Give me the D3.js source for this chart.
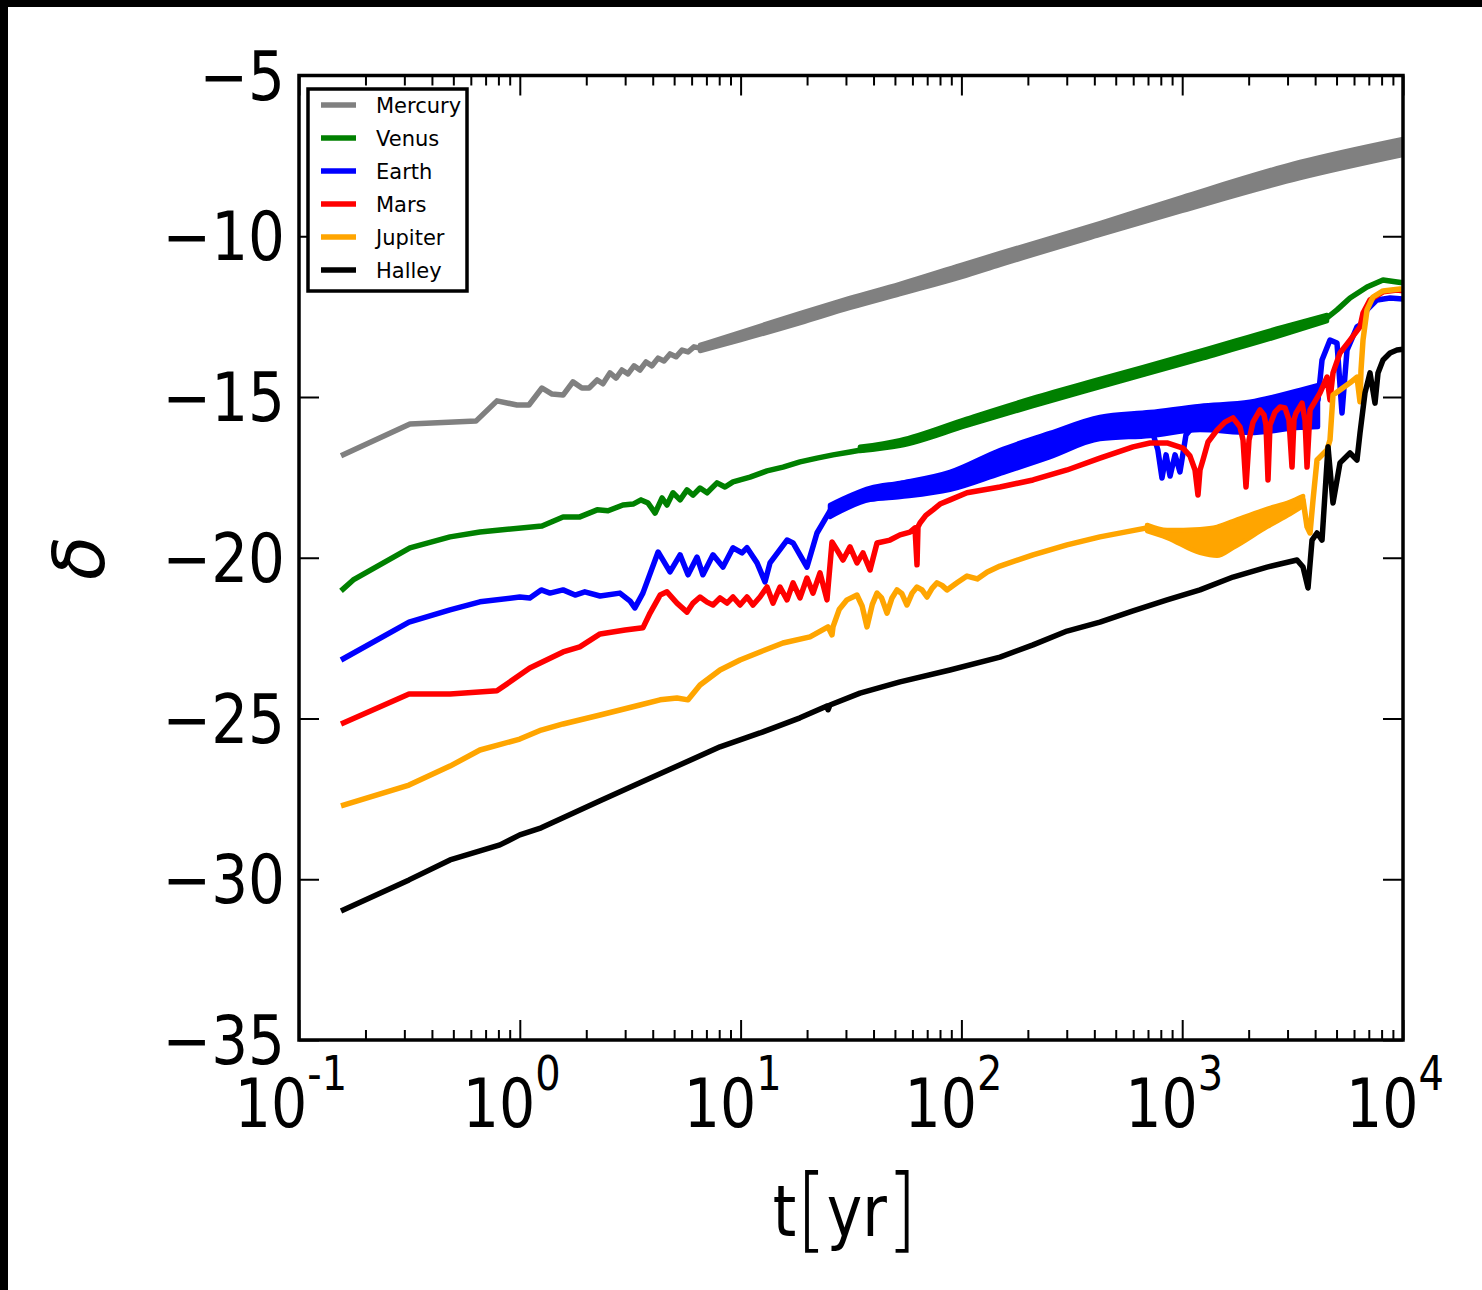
<!DOCTYPE html>
<html>
<head>
<meta charset="utf-8">
<script src="https://cdn.jsdelivr.net/npm/d3@7"></script>
<style>
  body { margin: 0; background: #fff; }
  text { font-family: "DejaVu Sans", sans-serif; fill: #000; }
</style>
</head>
<body>
<svg id="chart" width="1482" height="1290"></svg>
<script>
// ---- data: relative error delta (log10) versus time t [yr] ----
const seriesNames  = ["Mercury", "Venus", "Earth", "Mars", "Jupiter", "Halley"];
const seriesColors = ["#808080", "#008000", "#0000ff", "#ff0000", "#ffa500", "#000000"];

const mercury = [[0.155,-16.83],[0.318,-15.84],[0.633,-15.75],[0.788,-15.12],[0.971,-15.25],[1.10,-15.25],
  [1.26,-14.72],[1.40,-14.91],[1.57,-14.94],[1.74,-14.53],[1.91,-14.72],[2.06,-14.72],[2.24,-14.47],
  [2.38,-14.59],[2.56,-14.25],[2.73,-14.41],[2.90,-14.16],[3.09,-14.28],[3.29,-14.03],[3.50,-14.16],
  [3.73,-13.91],[3.97,-14.03],[4.23,-13.79],[4.50,-13.88],[4.79,-13.66],[5.10,-13.75],[5.43,-13.54],
  [5.78,-13.60],[6.15,-13.44],[6.55,-13.48]];
// fast oscillation envelope: [t, upper, lower]
const mercuryBand = [[6.55,-13.38,-13.57],[10,-12.98,-13.23],[18.6,-12.39,-12.70],[31.3,-11.92,-12.23],
  [52.7,-11.48,-11.80],[100,-10.89,-11.27],[150,-10.52,-10.89],[424,-9.59,-9.96],[1000,-8.78,-9.21],
  [3417,-7.69,-8.19],[10000,-6.97,-7.47]];

const venus = [[0.155,-21.03],[0.176,-20.69],[0.318,-19.69],[0.483,-19.35],[0.660,-19.20],[0.813,-19.14],
  [1.26,-19.01],[1.57,-18.73],[1.87,-18.73],[2.24,-18.51],[2.51,-18.54],[2.93,-18.36],[3.26,-18.33],
  [3.54,-18.20],[3.81,-18.30],[4.10,-18.61],[4.41,-18.14],[4.64,-18.36],[4.94,-17.98],[5.32,-18.20],
  [5.72,-17.89],[6.09,-18.05],[6.55,-17.83],[7.05,-17.98],[7.82,-17.67],[8.50,-17.80],[9.24,-17.64],
  [11.03,-17.49],[13.17,-17.30],[15.56,-17.18],[18.58,-17.02],[22.18,-16.90],[26.21,-16.80],[31.3,-16.71],
  [52.7,-16.43],[106,-15.78],[211,-15.15],[424,-14.56],[1204,-13.69],[2861,-12.95],[4527,-12.54],
  [5024,-12.29],[5754,-11.92],[6871,-11.58],[8119,-11.36],[9393,-11.42],[10000,-11.45]];
const venusBand = [[34.7,-16.55,-16.68],[52.7,-16.34,-16.52],[106,-15.67,-15.89],[211,-15.03,-15.28],
  [424,-14.44,-14.69],[1204,-13.57,-13.82],[2861,-12.82,-13.07],[4527,-12.45,-12.64]];

const earth = [[0.155,-23.18],[0.315,-22.00],[0.483,-21.62],[0.660,-21.37],[1.00,-21.22],[1.11,-21.25],
  [1.25,-21.00],[1.37,-21.10],[1.57,-21.00],[1.78,-21.16],[1.97,-21.06],[2.31,-21.19],[2.84,-21.10],
  [3.16,-21.35],[3.32,-21.56],[3.61,-21.10],[4.23,-19.82],[4.79,-20.44],[5.32,-19.91],[5.78,-20.53],
  [6.35,-19.98],[6.75,-20.53],[7.50,-19.91],[8.32,-20.29],[9.24,-19.69],[10.15,-19.85],[10.69,-19.69],
  [11.87,-20.16],[12.90,-20.75],[13.59,-20.16],[16.23,-19.45],[17.28,-19.54],[19.98,-20.29],[22.18,-19.23],
  [25.4,-18.54],[38.6,-18.02],[52.7,-17.89],[88.8,-17.61],[149.5,-17.02],[252,-16.49],[424,-15.96],
  [715,-15.84],[776,-16.65],[810,-17.52],[845,-16.80],[881,-17.46],[928,-16.80],[977,-17.33],[1040,-16.18],
  [1204,-15.65],[2028,-15.62],[3417,-15.37],[4121,-15.09],[4298,-13.85],[4670,-13.23],[5024,-13.32],
  [5293,-15.50],[5578,-13.54],[6190,-12.82],[6590,-12.70],[6871,-12.29],[7625,-11.98],[8734,-11.92],
  [10000,-11.95]];
const earthBand = [[25.4,-18.36,-18.73],[38.6,-17.83,-18.20],[52.7,-17.67,-18.11],[88.8,-17.33,-17.89],
  [149.5,-16.65,-17.39],[252,-16.12,-16.87],[424,-15.62,-16.31],[715,-15.47,-16.21],[1204,-15.28,-16.03],
  [2028,-15.15,-16.12],[3417,-14.78,-15.96],[4121,-14.63,-15.93]];

const mars = [[0.155,-25.17],[0.315,-24.24],[0.483,-24.24],[0.788,-24.14],[1.11,-23.43],[1.57,-22.93],
  [1.87,-22.77],[2.31,-22.37],[3.00,-22.25],[3.61,-22.18],[3.89,-21.72],[4.32,-21.16],[4.64,-21.06],
  [5.15,-21.41],[5.72,-21.69],[6.09,-21.41],[6.55,-21.22],[7.05,-21.38],[7.50,-21.47],[8.07,-21.25],
  [8.68,-21.41],[9.24,-21.22],[9.94,-21.47],[10.69,-21.22],[11.38,-21.47],[12.24,-21.22],[13.17,-20.91],
  [14.02,-21.41],[15.08,-20.91],[16.23,-21.31],[17.28,-20.78],[18.58,-21.25],[19.98,-20.63],[21.28,-21.10],
  [22.89,-20.47],[24.62,-21.31],[25.94,-19.51],[27.33,-19.76],[29.10,-20.07],[31.30,-19.66],[33.67,-20.16],
  [35.84,-19.85],[38.56,-20.38],[41.48,-19.54],[47.49,-19.45],[52.72,-19.29],[58.50,-19.20],[61.63,-19.07],
  [62.94,-20.22],[63.59,-19.04],[64.94,-18.92],[69.0,-18.68],[74.35,-18.51],[80.0,-18.33],[88.79,-18.20],
  [106,-17.98],[149.5,-17.80],[211,-17.58],[301,-17.27],[424,-16.90],[599,-16.55],[715,-16.43],
  [854,-16.43],[1008,-16.59],[1084,-16.83],[1143,-17.27],[1179,-18.05],[1204,-17.27],[1242,-16.96],
  [1309,-16.40],[1438,-16.03],[1562,-15.78],[1699,-15.65],[1827,-15.93],[1886,-16.34],[1945,-17.80],
  [2007,-16.34],[2093,-15.78],[2251,-15.40],[2347,-15.56],[2396,-15.87],[2447,-17.58],[2498,-15.87],
  [2632,-15.47],[2774,-15.31],[2922,-15.34],[3045,-15.71],[3143,-17.18],[3208,-15.71],[3277,-15.50],
  [3489,-15.19],[3600,-15.72],[3676,-17.18],[3793,-15.40],[4209,-14.87],[4527,-14.38],[4670,-15.09],
  [4819,-14.25],[5184,-13.63],[5754,-13.23],[6387,-12.82],[6590,-12.39],[7088,-11.98],[8119,-11.73],
  [9393,-11.67],[10000,-11.70]];

const jupiter = [[0.155,-27.72],[0.315,-27.07],[0.483,-26.48],[0.660,-25.98],[1.00,-25.64],[1.25,-25.36],
  [1.57,-25.17],[2.31,-24.89],[3.50,-24.58],[4.32,-24.42],[5.15,-24.36],[5.78,-24.42],[6.55,-23.96],
  [8.07,-23.49],[9.94,-23.18],[12.24,-22.93],[15.56,-22.65],[20.62,-22.46],[24.88,-22.15],[25.94,-22.40],
  [26.21,-22.15],[28.0,-21.60],[30.34,-21.31],[33.67,-21.16],[35.5,-21.50],[37.36,-22.15],[39.5,-21.45],
  [41.48,-21.10],[43.5,-21.25],[46.03,-21.72],[48.5,-21.25],[51.09,-21.00],[53.8,-21.12],[56.70,-21.47],
  [59.8,-21.10],[62.94,-20.91],[66.3,-21.00],[69.87,-21.22],[73.6,-20.95],[77.51,-20.78],[81.7,-20.86],
  [86.05,-21.00],[95.5,-20.78],[106,-20.57],[118,-20.66],[131,-20.44],[149.5,-20.26],[211,-19.91],
  [301,-19.60],[424,-19.35],[693,-19.07],[854,-19.26],[1204,-19.48],[1438,-19.51],[1699,-19.29],
  [2422,-18.76],[3077,-18.45],[3526,-18.20],[3676,-19.04],[3793,-19.23],[3913,-18.20],[4079,-16.96],
  [4527,-16.65],[4670,-16.34],[4819,-14.94],[5184,-14.78],[5754,-14.56],[6190,-14.38],[6387,-15.15],
  [6454,-14.16],[6590,-13.23],[6871,-12.29],[7313,-11.89],[8119,-11.70],[9692,-11.64],[10000,-11.64]];
const jupiterBand = [[693,-18.98,-19.17],[854,-19.14,-19.38],[1204,-19.11,-19.85],[1438,-19.04,-19.94],
  [1699,-18.86,-19.69],[2422,-18.48,-19.04],[3077,-18.26,-18.64],[3526,-18.08,-18.39]];

const halley = [[0.155,-30.99],[0.315,-30.02],[0.483,-29.40],[0.660,-29.12],[0.813,-28.93],[1.00,-28.62],
  [1.25,-28.40],[1.57,-28.09],[2.31,-27.56],[3.50,-27.00],[5.32,-26.44],[8.07,-25.88],[12.24,-25.45],
  [18.58,-24.98],[24.62,-24.61],[24.88,-24.73],[25.41,-24.58],[34.74,-24.21],[52.72,-23.86],[88.79,-23.49],
  [149.5,-23.09],[211,-22.71],[301,-22.28],[424,-22.00],[599,-21.65],[854,-21.31],[1204,-21.00],
  [1699,-20.60],[2422,-20.29],[3311,-20.07],[3526,-20.29],[3714,-20.94],[3873,-19.45],[4079,-19.23],
  [4298,-19.45],[4575,-16.55],[4819,-18.30],[5184,-17.05],[5754,-16.74],[6190,-16.96],[6387,-16.12],
  [6729,-14.87],[7088,-14.25],[7468,-15.19],[7706,-14.25],[8119,-13.85],[8734,-13.63],[9393,-13.54],
  [10000,-13.51]];

const seriesLines = [mercury, venus, earth, mars, jupiter, halley];
const seriesBands = [mercuryBand, venusBand, earthBand, null, jupiterBand, null];

const xDomain = [0.1, 1e4];
const yDomain = [-35, -5];
const xMajorTicks = [0.1, 1, 10, 100, 1000, 10000];
const xTickExponents = ["-1", "0", "1", "2", "3", "4"];
const yTicks = [-35, -30, -25, -20, -15, -10, -5];

// ---- layout ----
const W = 1482, H = 1290;
const plot = { left: 299, right: 1403, top: 75.5, bottom: 1040 };
const textStretch = 1.18;

const svg = d3.select("#chart");
svg.append("rect").attr("width", W).attr("height", H).attr("fill", "#fff");
// dark frame on the top and left edges of the figure
svg.append("rect").attr("x", 0).attr("y", 0).attr("width", W).attr("height", 7).attr("fill", "#000");
svg.append("rect").attr("x", 0).attr("y", 0).attr("width", 8).attr("height", H).attr("fill", "#000");

const x = d3.scaleLog().domain(xDomain).range([plot.left, plot.right]);
const y = d3.scaleLinear().domain(yDomain).range([plot.bottom, plot.top]);

svg.append("clipPath").attr("id", "plotClip").append("rect")
  .attr("x", plot.left).attr("y", plot.top)
  .attr("width", plot.right - plot.left).attr("height", plot.bottom - plot.top);

const gData = svg.append("g").attr("clip-path", "url(#plotClip)");
const line = d3.line().x(d => x(d[0])).y(d => y(d[1]));
const band = d3.area().x(d => x(d[0])).y0(d => y(d[2])).y1(d => y(d[1])).curve(d3.curveMonotoneX);

seriesLines.forEach((pts, i) => {
  const col = seriesColors[i];
  gData.append("path").datum(pts).attr("d", line)
    .attr("fill", "none").attr("stroke", col).attr("stroke-width", 5.5)
    .attr("stroke-linejoin", "round").attr("stroke-linecap", "butt");
  if (seriesBands[i]) {
    gData.append("path").datum(seriesBands[i]).attr("d", band)
      .attr("fill", col).attr("stroke", col).attr("stroke-width", 4.5)
      .attr("stroke-linejoin", "round");
  }
});

// ---- axes: inward ticks on all four sides ----
const minorTicks = [];
for (let e = -1; e < 4; e++) for (let k = 2; k <= 9; k++) minorTicks.push(k * Math.pow(10, e));

function xAxisPair(values, len) {
  svg.append("g").attr("transform", `translate(0,${plot.bottom})`)
    .call(d3.axisBottom(x).tickValues(values).tickSize(-len).tickFormat(""))
    .call(g => g.select(".domain").remove());
  svg.append("g").attr("transform", `translate(0,${plot.top})`)
    .call(d3.axisTop(x).tickValues(values).tickSize(-len).tickFormat(""))
    .call(g => g.select(".domain").remove());
}
xAxisPair(xMajorTicks, 20);
xAxisPair(minorTicks, 10);

svg.append("g").attr("transform", `translate(${plot.left},0)`)
  .call(d3.axisLeft(y).tickValues(yTicks).tickSize(-20).tickFormat(""))
  .call(g => g.select(".domain").remove());
svg.append("g").attr("transform", `translate(${plot.right},0)`)
  .call(d3.axisRight(y).tickValues(yTicks).tickSize(-20).tickFormat(""))
  .call(g => g.select(".domain").remove());
svg.selectAll(".tick line").attr("stroke", "#000").attr("stroke-width", 2);

svg.append("rect")
  .attr("x", plot.left).attr("y", plot.top)
  .attr("width", plot.right - plot.left).attr("height", plot.bottom - plot.top)
  .attr("fill", "none").attr("stroke", "#000").attr("stroke-width", 3.5);

// y tick labels
yTicks.forEach(v => {
  svg.append("text")
    .attr("transform", `translate(${plot.left - 14},${y(v) + 24}) scale(1,${textStretch})`)
    .attr("text-anchor", "end").attr("font-size", 58)
    .text("\u2212" + Math.abs(v));
});

// x tick labels: 10^n
xMajorTicks.forEach((v, i) => {
  const t = svg.append("text")
    .attr("transform", `translate(${x(v) - 8},${1127}) scale(1,${textStretch})`)
    .attr("text-anchor", "middle").attr("font-size", 57);
  t.append("tspan").text("10");
  t.append("tspan").attr("font-size", 40).attr("dy", -31).text(xTickExponents[i]);
});

// axis titles
const xt = svg.append("text")
  .attr("transform", `translate(845,1236) scale(1,${textStretch})`)
  .attr("text-anchor", "middle").attr("font-size", 60);
xt.append("tspan").text("t");
xt.append("tspan").attr("font-size", 78).attr("font-weight", 200).attr("dy", 4).text("[");
xt.append("tspan").attr("dy", -4).text("yr");
xt.append("tspan").attr("font-size", 78).attr("font-weight", 200).attr("dy", 4).text("]");

svg.append("text")
  .attr("transform", `translate(104,558) rotate(-90)`)
  .attr("text-anchor", "middle").attr("font-size", 72).attr("font-style", "italic")
  .text("\u03b4");

// ---- legend ----
const lg = svg.append("g");
lg.append("rect").attr("x", 308).attr("y", 89).attr("width", 159).attr("height", 202)
  .attr("fill", "#fff").attr("stroke", "#000").attr("stroke-width", 3.5);
seriesNames.forEach((name, i) => {
  const yy = 105 + i * 33;
  lg.append("line").attr("x1", 321).attr("x2", 356).attr("y1", yy).attr("y2", yy)
    .attr("stroke", seriesColors[i]).attr("stroke-width", 5.5);
  lg.append("text").attr("x", 376).attr("y", yy + 8).attr("font-size", 21)
    .text(name);
});
</script>
</body>
</html>
